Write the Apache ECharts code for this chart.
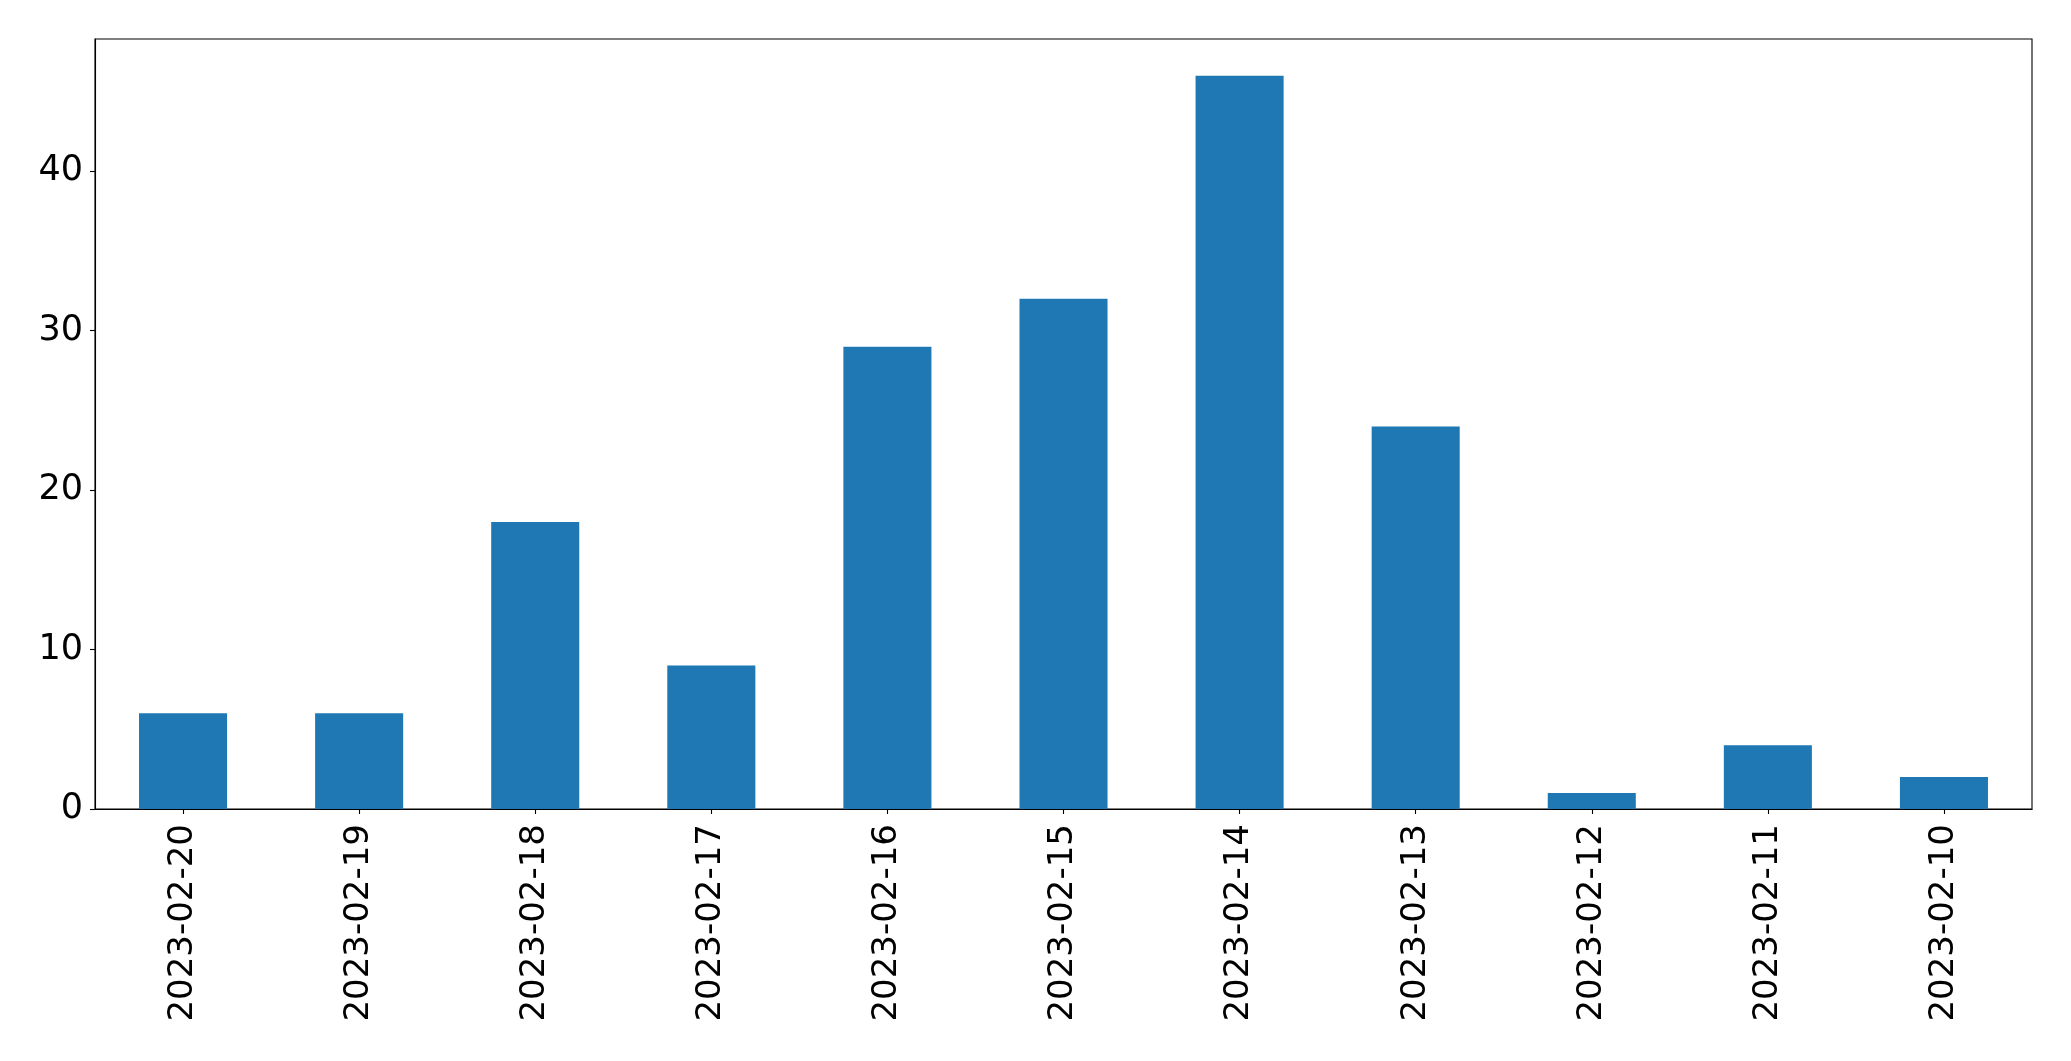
<!DOCTYPE html>
<html>
<head>
<meta charset="utf-8">
<script src="https://cdn.jsdelivr.net/npm/echarts@6/dist/echarts.min.js"></script>
<style>
html,body{margin:0;padding:0;background:#fff;}
#chart{width:2071px;height:1061px;}
</style>
</head>
<body>
<div id="chart"></div>
<script>
const categories = ['2023-02-20','2023-02-19','2023-02-18','2023-02-17','2023-02-16','2023-02-15','2023-02-14','2023-02-13','2023-02-12','2023-02-11','2023-02-10'];
const values = [6, 6, 18, 9, 29, 32, 46, 24, 1, 4, 2];
const yTicks = [0, 10, 20, 30, 40];

const chart = echarts.init(document.getElementById('chart'), null, {renderer: 'canvas'});
const font = 'DejaVu Sans';
chart.setOption({
  animation: false,
  backgroundColor: '#ffffff',
  grid: {
    left: 95, right: 39, top: 39, bottom: 252,
    show: true, borderColor: '#000', borderWidth: 1.1, backgroundColor: 'transparent'
  },
  xAxis: {
    type: 'category',
    data: categories,
    boundaryGap: true,
    axisLine: {show: true, lineStyle: {color: '#000', width: 1.1}},
    axisTick: {show: true, alignWithLabel: true, length: 5, lineStyle: {color: '#000', width: 1.1}},
    axisLabel: {rotate: 90, margin: 15, fontFamily: font, fontSize: 34, color: '#000', interval: 0},
    splitLine: {show: false}
  },
  yAxis: {
    type: 'value',
    min: 0,
    max: 48.3,
    interval: 10,
    axisLine: {show: true, lineStyle: {color: '#000', width: 1.1}},
    axisTick: {show: true, length: 5, lineStyle: {color: '#000', width: 1.1}},
    axisLabel: {
      margin: 12, fontFamily: font, fontSize: 35, color: '#000',
      formatter: function (v) { return yTicks.indexOf(v) >= 0 ? String(v) : ''; },
      showMaxLabel: false
    },
    splitLine: {show: false}
  },
  series: [{
    type: 'bar',
    data: values,
    barWidth: '50%',
    itemStyle: {color: '#1f77b4'}
  }]
});
</script>
</body>
</html>
